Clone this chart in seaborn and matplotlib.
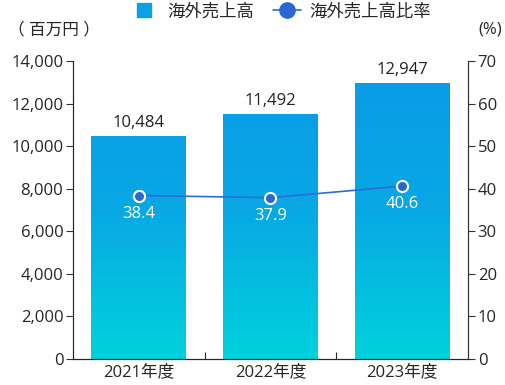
import numpy as np
import pandas as pd
import matplotlib.pyplot as plt
import seaborn as sns
from matplotlib.colors import LinearSegmentedColormap
from matplotlib.lines import Line2D

years = ["2021年度", "2022年度", "2023年度"]
sales = [10484, 11492, 12947]
ratio = [38.4, 37.9, 40.6]
left_ticks = [0, 2000, 4000, 6000, 8000, 10000, 12000, 14000]
right_ticks = [0, 10, 20, 30, 40, 50, 60, 70]

sns.set_style("ticks")
plt.rcParams['font.family'] = ['Open Sans', 'Noto Sans CJK JP', 'DejaVu Sans']
plt.rcParams['font.size'] = 12

df = pd.DataFrame({"year": years, "sales": sales, "ratio": ratio})

fig = plt.figure(figsize=(5.06, 3.85), dpi=100)
ax = fig.add_axes([73 / 506, 26 / 385, 395 / 506, 298 / 385])

sns.barplot(data=df, x="year", y="sales", color="#0AA0E6", width=0.72, ax=ax)
ax.set_xlim(-0.5, 2.5)
ax.set_ylim(0, 14000)

# gradient fill for bars
cmap = LinearSegmentedColormap.from_list("g", ["#00D2DC", "#08A8E4", "#0A9AE8"])
grad = np.linspace(0, 1, 256).reshape(-1, 1)
for p in ax.patches:
    im = ax.imshow(grad, cmap=cmap, origin="lower", aspect="auto",
                   extent=[-0.5, 2.5, 0, 14000], zorder=p.get_zorder())
    im.set_clip_path(p)
    p.set_facecolor("none")

for i, v in enumerate(sales):
    ax.text(i, v + 250, f"{v:,}", ha="center", va="bottom", fontsize=12, color="#222222")

ax.set_yticks(left_ticks)
ax.set_yticklabels([f"{t:,}" for t in left_ticks])
ax.set_xticks([0.5, 1.5], minor=False)
ax.set_xticks([0, 1, 2], minor=True)
ax.set_xticklabels(["", ""])
ax.set_xticklabels(years, minor=True)
ax.tick_params(axis="x", which="minor", length=0, labelsize=12, pad=4)
ax.tick_params(axis="x", which="major", length=5, direction="in")
ax.tick_params(axis="y", labelsize=12, length=5, color="#333333", pad=2)
ax.set_xlabel("")
ax.set_ylabel("")
ax.spines["top"].set_visible(False)
for s in ["left", "bottom", "right"]:
    ax.spines[s].set_color("#333333")

ax2 = ax.twinx()
sns.lineplot(x=[0, 1, 2], y=ratio, color="#2E6CD6", linewidth=1.2, marker="o",
             markersize=8, markerfacecolor="#2A66D4", markeredgecolor="white",
             markeredgewidth=1.5, ax=ax2)
ax2.set_ylim(0, 70)
ax2.set_yticks(right_ticks)
ax2.tick_params(axis="y", labelsize=12, length=5, color="#333333", pad=2)
ax2.spines["top"].set_visible(False)
ax2.spines["right"].set_color("#333333")
for i, v in enumerate(ratio):
    ax2.text(i, v - 2.4, f"{v}", ha="center", va="top", fontsize=12, color="white")

fig.text(8 / 506, 1 - 30 / 385, "（ 百万円 ）", ha="left", va="center", fontsize=12)
fig.text(502 / 506, 1 - 30 / 385, "(%)", ha="right", va="center", fontsize=12)

handles = [
    Line2D([0], [0], marker="s", linestyle="none", markersize=10,
           markerfacecolor="#0AA0E6", markeredgecolor="#0AA0E6"),
    Line2D([0], [0], color="#2E6CD6", linewidth=1.2, marker="o", markersize=11,
           markerfacecolor="#2A66D4", markeredgecolor="#2A66D4"),
]
fig.legend(handles, ["海外売上高", "海外売上高比率"], loc="center",
           bbox_to_anchor=(0.555, 1 - 12 / 385), ncol=2, frameon=False,
           fontsize=12.5, handlelength=1.6, columnspacing=1.1, handletextpad=0.5)

fig.savefig("out.png", dpi=100)
